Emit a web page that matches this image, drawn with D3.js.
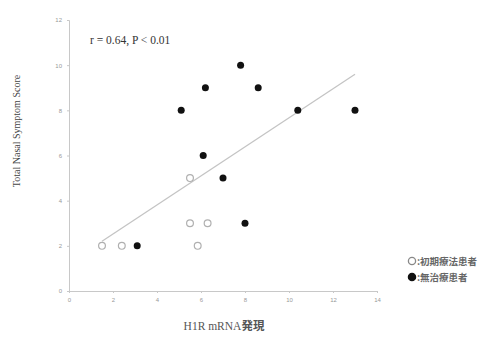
<!DOCTYPE html>
<html><head><meta charset="utf-8">
<script src="https://cdn.jsdelivr.net/npm/d3@7"></script>
<style>body{margin:0;background:#fff}svg{display:block}</style>
</head><body>
<svg id="c" width="504" height="342"></svg>
<script>
const xTicks=[0,2,4,6,8,10,12,14];
const yTicks=[0,2,4,6,8,10,12];
const openX=[1.5,2.4,5.85,5.5,6.3,5.5];
const openY=[2,2,2,3,3,5];
const filledX=[3.1,5.1,6.2,7.8,8.6,6.1,7.0,8.0,10.4,13.0];
const filledY=[2,8,9,10,9,6,5,3,8,8];
const fitX=[1.5,13.0];
const fitY=[2.2,9.6];
const legendLabels=[":初期療法患者",":無治療患者"];

const svg=d3.select("#c");
const x=d3.scaleLinear().domain([0,14]).range([69,377]);
const y=d3.scaleLinear().domain([0,12]).range([291,20]);
const gray="#c8c8c8";

const gx=svg.append("g").attr("transform","translate(0,291)")
  .call(d3.axisBottom(x).tickValues(xTicks).tickSize(2).tickPadding(5));
const gy=svg.append("g").attr("transform","translate(69,0)")
  .call(d3.axisLeft(y).tickValues(yTicks).tickSize(2).tickPadding(5));
[gx,gy].forEach(g=>{
  g.selectAll("path,line").attr("stroke",gray);
  g.selectAll("text").attr("fill","#999").style("font-family","Liberation Sans, Arial").style("font-size","6px");
});

svg.append("line").attr("x1",x(fitX[0])).attr("y1",y(fitY[0])).attr("x2",x(fitX[1])).attr("y2",y(fitY[1]))
  .attr("stroke","#c4c4c4").attr("stroke-width",1.3);

svg.selectAll(".o").data(openX.map((v,i)=>[v,openY[i]])).join("circle")
  .attr("cx",d=>x(d[0])).attr("cy",d=>y(d[1])).attr("r",3.4)
  .attr("fill","#fff").attr("stroke","#b0b0b0").attr("stroke-width",1.2);
svg.selectAll(".f").data(filledX.map((v,i)=>[v,filledY[i]])).join("circle")
  .attr("cx",d=>x(d[0])).attr("cy",d=>y(d[1])).attr("r",3.5).attr("fill","#111");

svg.append("text").attr("x",90).attr("y",44).text("r = 0.64, P < 0.01")
  .style("font-family","Liberation Serif, Times New Roman").style("font-size","11.5px").attr("fill","#333");

svg.append("text").attr("transform","translate(20,131) rotate(-90)").attr("text-anchor","middle")
  .text("Total Nasal Symptom Score").style("font-family","Liberation Serif, Times New Roman")
  .style("font-size","10px").attr("fill","#444");

const xl=svg.append("text").attr("x",224).attr("y",330).attr("text-anchor","middle")
  .style("font-size","11.5px").attr("fill","#555");
xl.append("tspan").text("H1R mRNA").style("font-family","Liberation Serif, Times New Roman");
xl.append("tspan").text("発現").style("font-family","Noto Sans CJK JP").style("font-weight","bold");

const lg=svg.append("g");
legendLabels.forEach((t,i)=>{
  const cy=261+i*16;
  lg.append("circle").attr("cx",412).attr("cy",cy).attr("r",3.6)
    .attr("fill",i===0?"#fff":"#111").attr("stroke",i===0?"#888":"#111").attr("stroke-width",1.3);
  lg.append("text").attr("x",417).attr("y",cy+3.5).text(t)
    .style("font-family","Noto Sans CJK JP").style("font-size","9.5px").style("font-weight","bold").attr("fill","#666");
});
</script>
</body></html>
